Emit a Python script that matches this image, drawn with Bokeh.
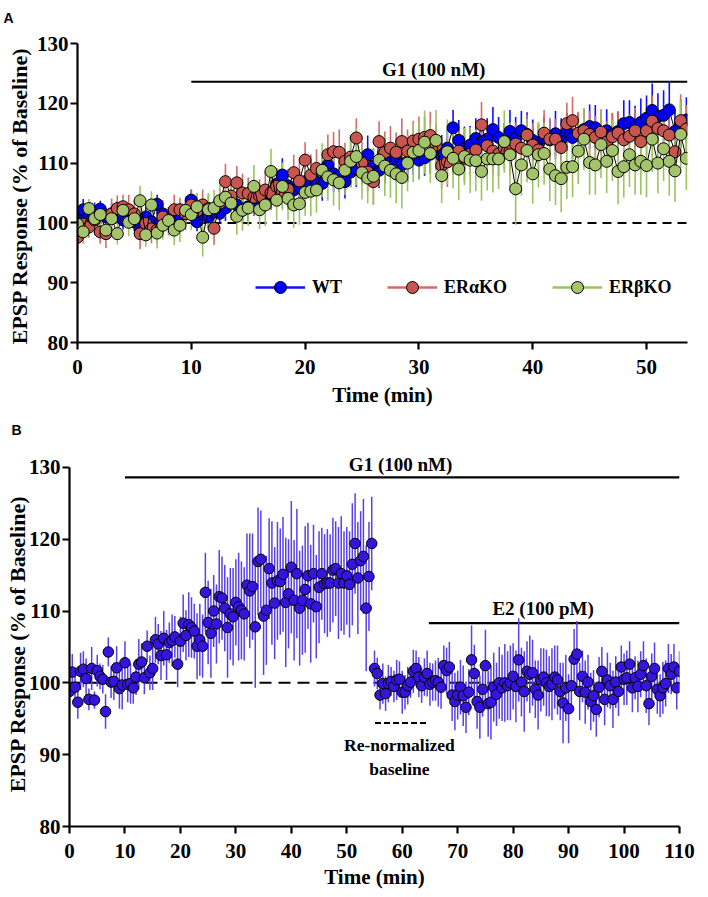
from bokeh.plotting import figure
from bokeh.models import (Legend, LegendItem, Label, ColumnDataSource, Range1d,
                          FixedTicker, Title)
from bokeh.layouts import column
from bokeh.embed import file_html
from bokeh.resources import INLINE

# ---------------- data ----------------
SAMPLE_MIN = 0.5  # one sweep every 30 s

# Panel A: G1 in WT, ERaKO, ERbKO
wt_mean = [100.5,102.2,101.5,101.8,102.3,101.0,101.5,102.3,100.5,101.2,
           100.2,99.0,101.0,100.2,103.1,101.5,100.8,100.5,101.2,102.0,
           103.8,100.2,101.6,101.0,101.8,101.6,102.5,103.8,103.0,102.2,
           102.7,103.2,103.8,104.2,104.8,106.5,108.0,106.2,105.5,106.0,
           106.9,107.5,107.0,106.6,109.7,108.2,107.8,106.9,108.5,109.0,
           110.0,111.4,109.5,108.8,109.7,110.4,110.7,109.8,110.2,111.0,
           110.5,110.9,111.5,112.0,111.2,112.5,115.9,113.8,112.5,113.0,
           114.1,113.5,114.0,115.6,114.3,113.5,115.3,114.2,115.4,114.8,
           113.8,113.3,114.2,113.9,114.9,114.0,115.2,114.3,115.0,115.6,
           116.1,115.9,115.0,115.4,114.8,115.3,116.6,116.8,116.0,116.8,
           117.5,118.8,117.8,118.0,118.9,115.3,116.5,117.2]
wt_sem = [1.5,1.8,1.2,1.6,1.4,1.5,1.8,1.3,1.6,1.2,
          1.5,1.4,1.7,1.3,1.6,1.5,1.8,1.4,1.6,1.9,
          1.8,1.6,1.5,1.9,2.0,1.7,2.2,1.8,2.0,2.3,
          2.4,2.0,2.6,2.2,2.5,2.4,2.8,2.3,2.6,2.5,
          2.6,2.8,2.4,2.9,2.7,3.0,2.6,2.8,2.5,3.0,
          2.8,3.2,2.9,3.0,3.1,2.8,3.2,3.0,3.4,2.9,
          3.2,3.0,3.3,3.1,3.5,3.2,3.0,3.4,3.6,3.2,
          3.4,3.3,3.5,3.8,3.4,3.2,3.6,3.5,3.3,3.7,
          3.5,3.3,3.6,3.4,3.8,3.5,3.2,3.6,3.4,3.5,
          3.7,3.8,3.4,3.6,3.5,3.3,3.9,3.7,3.6,4.0,
          3.8,4.5,3.9,4.2,4.8,3.6,4.0,3.8]

era_mean = [97.6,99.8,99.3,100.5,98.5,98.2,101.5,102.4,102.7,102.2,
            101.5,98.2,99.9,99.0,98.8,101.0,100.2,102.2,102.2,101.5,
            103.0,102.0,103.0,102.4,99.1,103.3,106.9,104.5,106.7,105.0,
            104.9,104.3,104.5,105.5,105.0,106.1,105.2,105.6,108.4,107.0,
            110.5,108.0,109.1,108.5,111.4,111.9,111.8,110.3,111.0,114.2,
            110.0,108.5,106.9,113.6,111.8,112.5,111.8,113.6,112.0,113.7,
            114.0,114.3,114.6,113.0,109.6,110.2,111.5,112.0,110.8,111.5,
            112.2,116.4,112.9,112.0,111.5,112.5,112.0,113.2,112.5,114.7,
            113.0,112.2,115.0,114.0,114.0,112.6,116.6,117.1,115.0,115.4,
            114.8,114.3,115.2,113.5,114.4,115.0,113.9,114.5,115.4,113.6,
            115.4,117.0,115.8,115.4,114.7,111.9,117.1,115.7]
era_sem = [2.0,2.2,1.8,2.5,2.0,2.4,2.6,2.2,2.0,2.5,
           2.3,2.6,2.1,2.4,2.2,2.8,2.3,2.5,2.0,2.7,
           2.5,2.2,2.6,2.4,2.8,2.5,3.0,2.6,2.8,3.2,
           2.7,3.0,2.8,3.2,2.9,3.1,2.7,3.4,3.0,3.2,
           3.0,3.5,3.2,3.0,3.4,3.3,3.8,3.1,3.5,3.3,
           3.6,3.2,3.8,3.4,3.5,3.7,3.3,3.9,3.6,3.4,
           3.8,3.5,4.0,3.6,3.8,4.2,3.5,3.7,3.9,3.6,
           3.4,3.8,3.6,4.0,3.7,3.5,3.9,3.6,3.8,3.4,
           3.7,3.5,3.9,3.6,3.4,3.8,3.5,4.0,3.6,3.7,
           3.9,3.6,3.8,3.5,4.0,3.7,3.9,3.6,3.8,4.1,
           3.9,4.3,3.7,4.0,3.8,4.2,4.4,4.0]

erb_mean = [99.8,98.5,102.4,100.7,101.4,98.8,100.7,98.2,102.1,100.1,
            100.7,103.7,98.0,103.0,98.3,99.6,100.4,98.8,99.6,102.1,
            101.4,102.7,97.6,102.2,102.5,103.7,104.3,103.3,101.1,102.1,
            102.5,106.1,102.2,103.0,108.6,103.8,106.1,104.1,103.0,103.2,
            105.1,105.3,105.5,108.8,107.7,107.2,106.7,108.8,110.3,111.1,
            108.4,107.5,107.8,110.5,109.5,108.8,108.2,107.6,110.0,111.8,
            112.1,113.5,111.6,113.8,107.9,111.9,110.8,109.0,111.1,110.5,
            110.4,108.6,110.7,110.7,110.7,113.6,111.4,105.7,109.7,112.1,
            108.2,111.4,111.6,109.0,107.9,107.4,109.3,109.4,112.0,114.0,
            110.1,109.7,113.1,110.3,112.1,108.6,109.4,111.4,109.7,110.3,
            109.6,114.0,110.0,112.4,110.3,108.7,114.8,110.8]
erb_sem = [1.8,2.0,1.6,2.2,1.9,2.1,2.4,1.8,2.0,2.3,
           2.2,2.5,2.0,2.3,2.6,2.4,2.2,2.5,2.8,2.4,
           2.6,2.3,3.2,2.8,3.0,2.7,3.3,2.9,3.1,3.4,
           3.0,3.6,3.2,3.5,3.8,3.4,4.0,3.6,3.8,3.5,
           3.9,4.2,3.8,4.5,4.0,4.3,4.6,4.1,4.4,4.8,
           4.5,4.2,4.8,4.4,5.0,4.6,4.9,5.2,4.7,5.0,
           4.8,5.3,4.9,5.1,4.6,5.4,5.0,5.2,4.8,5.5,
           5.1,4.9,5.3,5.6,5.0,5.2,5.4,6.0,5.1,5.3,
           5.0,5.5,5.2,5.4,4.9,5.6,5.3,5.1,5.5,5.2,
           5.4,5.0,5.6,5.3,5.1,5.5,5.2,5.4,5.0,5.6,
           5.3,5.5,5.1,5.4,5.7,5.2,5.6,5.3]

# Panel B: G1 then E2 after re-normalisation
b_mean = [98.8,101.5,99.4,97.3,101.6,101.9,100.6,97.7,102.0,97.6,
          101.7,100.9,100.5,96.0,104.3,100.1,100.2,102.1,99.2,99.7,
          102.8,99.8,99.9,99.3,100.8,102.6,102.9,100.7,105.1,101.4,
          102.0,106.0,105.4,103.8,106.2,103.9,105.6,105.9,106.4,102.6,
          105.8,108.3,106.6,108.1,107.7,107.2,105.1,106.0,105.1,112.6,
          108.4,106.9,110.0,108.2,112.0,111.8,110.4,107.7,109.6,109.2,
          111.2,110.6,110.1,109.6,113.6,112.8,113.4,107.8,116.9,117.2,
          109.3,110.1,115.9,113.9,111.1,114.2,114.1,115.1,111.2,112.4,
          116.1,111.5,115.2,110.4,111.5,113.0,114.9,111.0,115.2,110.6,
          113.3,115.2,113.8,113.9,113.9,115.7,115.9,113.9,115.2,113.9,
          114.9,113.7,116.5,119.4,114.6,117.0,117.6,110.4,114.8,119.4,
          102.0,101.3,98.3,99.9,98.5,99.9,100.2,99.5,100.4,100.5,
          98.7,98.7,99.6,100.1,101.6,102.0,100.8,99.6,100.8,101.3,
          99.8,100.1,100.3,100.1,99.4,102.4,101.7,102.2,98.3,97.4,
          98.3,99.4,98.2,96.6,98.7,103.2,101.3,97.4,96.6,99.1,
          102.4,97.1,97.3,99.4,98.4,100.0,99.3,100.0,99.6,100.0,
          100.9,99.5,103.2,100.1,98.8,101.6,101.2,101.4,99.1,98.3,
          100.4,100.8,100.0,99.5,99.8,100.8,100.4,98.8,97.2,99.3,
          96.4,99.6,103.3,104.0,98.8,100.9,98.7,100.1,97.4,98.2,
          96.3,99.4,101.6,97.7,100.4,99.6,97.7,100.1,98.8,102.2,
          100.5,100.7,102.6,99.3,100.7,99.5,101.2,102.4,99.6,97.1,
          100.9,102.0,99.1,98.2,99.3,99.9,102.0,101.2,102.2,99.3,
          101.6]
b_sem = [2.0,2.5,1.8,2.3,2.6,2.5,2.8,1.5,3.0,1.2,
         2.2,1.8,2.0,2.4,2.0,2.2,2.6,3.0,2.8,3.4,
         3.0,2.5,2.8,2.2,2.5,3.5,2.6,2.3,2.2,2.4,
         3.0,3.2,2.8,3.4,3.8,3.5,2.8,3.6,2.9,3.2,
         3.4,4.0,3.5,4.5,4.2,3.8,4.6,5.0,4.4,5.5,
         5.8,6.2,5.0,5.5,6.5,5.8,6.0,7.0,6.4,6.8,
         6.0,7.5,6.8,6.5,7.2,8.0,7.4,8.5,7.5,6.8,
         8.2,7.6,7.0,8.6,7.8,8.2,7.4,8.0,9.0,7.6,
         9.2,8.4,9.0,8.0,7.6,8.8,7.4,8.2,6.8,7.2,
         7.8,6.4,6.9,7.5,6.8,7.3,6.6,7.8,8.0,7.2,
         6.8,7.4,8.5,7.0,7.8,6.9,8.0,8.8,7.6,6.5,
         2.5,2.2,2.0,2.8,2.4,2.6,2.0,2.2,2.8,2.5,
         3.0,2.4,2.6,2.2,3.0,2.5,2.8,2.4,2.6,3.2,
         3.0,2.6,2.8,3.4,3.0,2.8,3.2,3.5,3.6,4.0,
         3.4,3.8,4.2,3.6,3.2,4.8,4.0,3.8,4.4,3.8,
         5.0,4.6,5.2,4.8,4.4,5.0,4.6,5.4,4.8,5.2,
         4.6,5.0,5.8,4.8,5.6,4.2,5.4,4.6,4.0,4.8,
         4.4,4.0,4.6,4.2,5.0,4.4,4.8,4.0,5.6,4.6,
         4.8,3.8,4.2,4.6,4.0,3.6,4.4,3.8,4.0,3.6,
         3.8,4.2,3.4,3.6,3.8,3.2,4.0,3.6,3.4,3.0,
         3.6,3.8,3.2,3.4,3.0,3.6,3.2,3.4,3.8,3.0,
         3.2,3.6,3.4,3.0,3.6,3.2,3.4,2.8,3.2,3.0,
         2.8]

series_a_names = ["WT", "ER\u03b1KO", "ER\u03b2KO"]
# treatment bars: (start min, end min, level)
a_g1_bar = (10.0, 53.6, 123.6)
b_g1_bar = (10.0, 110.0, 128.6)
b_e2_bar = (64.8, 110.0, 108.3)
b_renorm_bar = (55.1, 64.8, 94.4)
a_xticks = [0, 10, 20, 30, 40, 50]
b_xticks = [0, 10, 20, 30, 40, 50, 60, 70, 80, 90, 100, 110]
yticks = [80, 90, 100, 110, 120, 130]

# ---------------- style ----------------
SERIF = "Liberation Serif"
SANS = "Liberation Sans"
A_FILL = ["#0000FF", "#C9554F", "#A3C46A"]
A_BAR = ["#1010FF", "#D56A66", "#9CC45E"]
B_FILL = "#3514DC"
B_BAR = "#5A40E6"


def style_axes(p, xticks):
    p.xgrid.visible = False
    p.ygrid.visible = False
    p.outline_line_color = None
    p.background_fill_color = "white"
    p.border_fill_color = "white"
    p.xaxis.ticker = FixedTicker(ticks=xticks)
    p.yaxis.ticker = FixedTicker(ticks=yticks)
    p.yaxis.bounds = (80, 130)
    for ax in (p.xaxis[0], p.yaxis[0]):
        ax.axis_line_width = 2.2
        ax.axis_line_color = "black"
        ax.major_tick_line_width = 2.2
        ax.major_tick_line_color = "black"
        ax.major_tick_out = 7
        ax.major_tick_in = 0
        ax.minor_tick_line_color = None
        ax.major_label_text_font = SERIF
        ax.major_label_text_font_style = "bold"
        ax.major_label_text_font_size = "21px"
        ax.major_label_text_color = "black"
        ax.axis_label_text_font = SERIF
        ax.axis_label_text_font_style = "bold"
        ax.axis_label_text_color = "black"
    p.xaxis.axis_label = "Time (min)"
    p.xaxis.axis_label_text_font_size = "21px"
    p.yaxis.axis_label = "EPSP  Response (% of Baseline)"
    p.yaxis.axis_label_text_font_size = "22px"
    p.yaxis.major_label_standoff = 2
    p.yaxis.axis_label_standoff = 2


def text_label(p, x, y, txt, size, align="center"):
    p.add_layout(Label(x=x, y=y, text=txt, text_font=SERIF, text_font_style="bold",
                       text_font_size=size, text_color="black", text_align=align,
                       text_baseline="middle"))


def panel_letter(p, letter, offset):
    # a near-empty title line lifts the panel letter away from the frame
    p.add_layout(Title(text=" ", text_font_size="1px"), "above")
    p.add_layout(Title(text=letter, align="left", offset=offset,
                       text_font=SANS, text_font_style="bold", text_font_size="14px",
                       text_color="black"), "above")


# ---------------- panel A ----------------
pa = figure(width=708, height=412, x_range=Range1d(0, 53.6), y_range=Range1d(80, 130),
            output_backend="svg", toolbar_location=None,
            min_border_left=77, min_border_right=21, min_border_top=43, min_border_bottom=70)
style_axes(pa, a_xticks)
pa.xaxis.major_label_standoff = 10
pa.xaxis.axis_label_standoff = 6
panel_letter(pa, "A", -74)

pa.line(x=[0, 53.6], y=[100, 100], line_color="black", line_width=2, line_dash="9 6")
pa.line(x=[a_g1_bar[0], a_g1_bar[1]], y=[a_g1_bar[2], a_g1_bar[2]], line_color="black", line_width=2.2)
text_label(pa, 31.3, 125.6, "G1 (100 nM)", "19px")

srcs = []
for mean, sem in ((wt_mean, wt_sem), (era_mean, era_sem), (erb_mean, erb_sem)):
    t = [i * SAMPLE_MIN for i in range(len(mean))]
    srcs.append(ColumnDataSource(dict(t=t, y=mean,
                                      lo=[m - s for m, s in zip(mean, sem)],
                                      hi=[m + s for m, s in zip(mean, sem)])))
for src, bc in zip(srcs, A_BAR):
    pa.segment(x0="t", y0="lo", x1="t", y1="hi", source=src, line_color=bc, line_width=1.6)
for src, fc in zip(srcs, A_FILL):
    pa.line(x="t", y="y", source=src, line_color="black", line_width=1)
    pa.scatter(x="t", y="y", source=src, marker="circle", size=12, fill_color=fc,
               line_color="black", line_width=1)

items = []
for name, fc, bc in zip(series_a_names, A_FILL, A_BAR):
    lr = pa.line(x=[0, 1], y=[float("nan"), float("nan")], line_color=bc, line_width=2.5)
    sr = pa.scatter(x=[0], y=[float("nan")], marker="circle", size=12, fill_color=fc,
                    line_color="black", line_width=1)
    items.append(LegendItem(label=name, renderers=[lr, sr]))
legend = Legend(items=items, orientation="horizontal", location=(178, 40),
                glyph_width=50, glyph_height=30, label_height=30, label_standoff=7,
                spacing=45, padding=0, margin=0, border_line_color=None,
                background_fill_alpha=0, label_text_font=SERIF,
                label_text_font_style="bold", label_text_font_size="18px",
                label_text_color="black")
pa.add_layout(legend, "center")

# ---------------- panel B ----------------
pb = figure(width=708, height=479, x_range=Range1d(0, 110), y_range=Range1d(80, 131.65),
            output_backend="svg", toolbar_location=None,
            min_border_left=77, min_border_right=16, min_border_top=43, min_border_bottom=64)
pb.margin = (0, 0, 0, -8)
style_axes(pb, b_xticks)
pb.yaxis.axis_label_standoff = -4
pb.xaxis.major_label_standoff = 10
pb.xaxis.axis_label_standoff = 4
panel_letter(pb, "B", -58)

tb = [i * SAMPLE_MIN for i in range(len(b_mean))]
srcb = ColumnDataSource(dict(t=tb, y=b_mean,
                             lo=[m - s for m, s in zip(b_mean, b_sem)],
                             hi=[m + s for m, s in zip(b_mean, b_sem)]))
pb.line(x=[0, 110], y=[100, 100], line_color="black", line_width=2, line_dash="12 7")
pb.line(x=[b_renorm_bar[0], b_renorm_bar[1]], y=[b_renorm_bar[2]] * 2,
        line_color="black", line_width=2, line_dash="6 3")
pb.line(x=[b_g1_bar[0], b_g1_bar[1]], y=[b_g1_bar[2]] * 2, line_color="black", line_width=2.2)
pb.line(x=[b_e2_bar[0], b_e2_bar[1]], y=[b_e2_bar[2]] * 2, line_color="black", line_width=2.2)
pb.segment(x0="t", y0="lo", x1="t", y1="hi", source=srcb, line_color=B_BAR, line_width=1.5)
pb.scatter(x="t", y="y", source=srcb, marker="circle", size=10.5, fill_color=B_FILL,
           line_color="black", line_width=1)

text_label(pb, 59.7, 130.4, "G1 (100 nM)", "19px")
text_label(pb, 85.4, 110.4, "E2 (100 pM)", "19px")
text_label(pb, 59.5, 91.3, "Re-normalized", "17.5px")
text_label(pb, 59.5, 88.0, "baseline", "17.5px")

layout = column(pa, pb)
open("out.html", "w").write(file_html(layout, INLINE))
